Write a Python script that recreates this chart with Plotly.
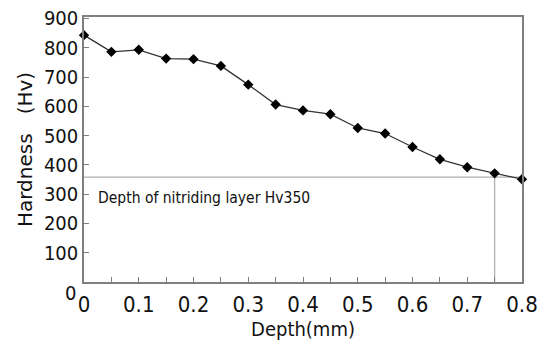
import plotly.graph_objects as go

depth = [0, 0.05, 0.1, 0.15, 0.2, 0.25, 0.3, 0.35, 0.4, 0.45, 0.5, 0.55, 0.6, 0.65, 0.7, 0.75, 0.8]
hardness = [843, 786, 793, 763, 761, 738, 674, 606, 586, 573, 526, 507, 461, 419, 392, 371, 351]
ref_hardness = 358
ref_depth = 0.75
x_ticks = [0, 0.05, 0.1, 0.15, 0.2, 0.25, 0.3, 0.35, 0.4, 0.45, 0.5, 0.55, 0.6, 0.65, 0.7, 0.75, 0.8]
x_labels = ["0", "", "0.1", "", "0.2", "", "0.3", "", "0.4", "", "0.5", "", "0.6", "", "0.7", "", "0.8"]
y_ticks = [0, 100, 200, 300, 400, 500, 600, 700, 800, 900]
y_labels = ["", "100", "200", "300", "400", "500", "600", "700", "800", "900"]

FONT = "DejaVu Sans Condensed, Liberation Sans Narrow, sans-serif"
AX = "#7f7f7f"

fig = go.Figure()
# reference lines
fig.add_trace(go.Scatter(x=[0, depth[-1]], y=[ref_hardness, ref_hardness], mode="lines",
                         line=dict(color="#b0b0b0", width=1.3), hoverinfo="skip", showlegend=False))
fig.add_trace(go.Scatter(x=[ref_depth, ref_depth], y=[0, ref_hardness], mode="lines",
                         line=dict(color="#b0b0b0", width=1.3), hoverinfo="skip", showlegend=False))
fig.add_trace(go.Scatter(x=depth, y=hardness, mode="lines+markers",
                         line=dict(color="#333333", width=1.3),
                         marker=dict(symbol="diamond", size=8, color="black"),
                         cliponaxis=False, showlegend=False))

fig.update_layout(
    width=547, height=342,
    margin=dict(l=84, r=25, t=7, b=58),
    paper_bgcolor="white", plot_bgcolor="white",
    font=dict(family=FONT, color="#111111"),
    xaxis=dict(range=[0, 0.8], tickvals=x_ticks, ticktext=x_labels, ticks="inside", ticklen=5,
               tickcolor=AX, showline=True, linecolor=AX, linewidth=1.5, mirror=True,
               showgrid=False, zeroline=False, tickfont=dict(size=22, family=FONT),
               ticklabelstandoff=2, ticklabeloverflow="allow",
               title=dict(text="Depth(mm)", font=dict(size=20, family=FONT), standoff=4)),
    yaxis=dict(range=[0, 905], tickvals=y_ticks, ticktext=y_labels, ticks="inside", ticklen=5,
               tickcolor=AX, showline=True, linecolor=AX, linewidth=1.5, mirror=True,
               showgrid=False, zeroline=False, tickfont=dict(size=20, family=FONT),
               ticklabeloverflow="allow",
               title=dict(text="Hardness   (Hv)", font=dict(size=20, family="DejaVu Sans, sans-serif"),
                          standoff=6)),
    annotations=[
        dict(text="Depth of nitriding layer Hv350", x=0.022, y=287, xref="x", yref="y",
             xanchor="left", yanchor="middle", showarrow=False, font=dict(size=15.5, family=FONT)),
        dict(text="0", x=(70 - 84) / 438, y=(284 - 295) / 277, xref="paper", yref="paper",
             xanchor="center", yanchor="middle", showarrow=False,
             font=dict(size=20, family=FONT)),
    ],
)
fig.write_html("out.html")
